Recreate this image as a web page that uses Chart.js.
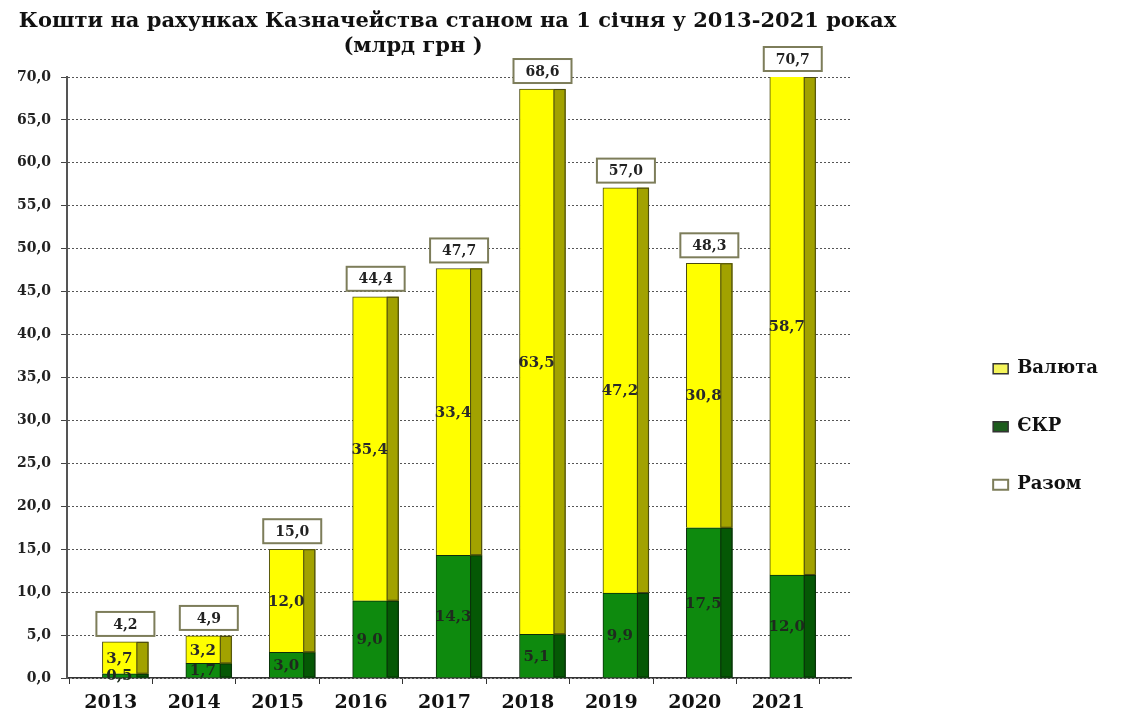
<!DOCTYPE html>
<html>
<head>
<meta charset="utf-8">
<title>Кошти на рахунках Казначейства</title>
<script src="https://cdn.jsdelivr.net/npm/chart.js@4.4.1/dist/chart.umd.min.js"></script>
<style>
  html, body { margin: 0; padding: 0; background: #fff; }
  #wrap { width: 1122px; height: 713px; position: relative; }
  .ttl {
    position: absolute; left: 0; margin: 0; white-space: nowrap; text-align: center;
    font: bold 21px "DejaVu Serif", "Liberation Serif", serif; color: #111; line-height: 25px;
  }
  #t1 { top: 7px; width: 915px; }
  #t2 { top: 32px; width: 826px; }
</style>
</head>
<body>
<div id="wrap">
  <div class="ttl" id="t1">Кошти на рахунках Казначейства станом на 1 січня у 2013-2021 роках</div>
  <div class="ttl" id="t2">(млрд грн )</div>
  <canvas id="chart"></canvas>
</div>
<script>
// кошти на рахунках Казначейства на 1 січня, млрд грн
const years = ['2013', '2014', '2015', '2016', '2017', '2018', '2019', '2020', '2021'];
const ekr = [0.5, 1.7, 3.0, 9.0, 14.3, 5.1, 9.9, 17.5, 12.0];
const valuta = [3.7, 3.2, 12.0, 35.4, 33.4, 63.5, 47.2, 30.8, 58.7];
const totals = [4.2, 4.9, 15.0, 44.4, 47.7, 68.6, 57.0, 48.3, 70.7];
const legendOrder = ['Валюта', 'ЄКР', 'Разом'];

Chart.defaults.font.family = '"DejaVu Serif", "Liberation Serif", serif';
Chart.defaults.color = '#111';

const fmt = v => v.toFixed(1).replace('.', ',');

// bars sit a bit right of the year label (3d depth in the original)
const SHIFT = 0.175;
const SIDE_W = 12;
const sideColor = ['#055805', '#a2a200'];
const edgeColor = ['#0b2e0b', '#4a4a10'];

// boundaries + label positions for the x axis
const xTickValues = [];
years.forEach((y, i) => {
  xTickValues.push(i - SHIFT - 0.5);
  xTickValues.push(i - SHIFT);
});
xTickValues.push(years.length - SHIFT - 0.5);

const legendStyle = {
  'Валюта': { fillStyle: '#f4f45a', strokeStyle: '#333', lineWidth: 1.5 },
  'ЄКР': { fillStyle: '#1d5c1d', strokeStyle: '#333', lineWidth: 1.5 },
  'Разом': { fillStyle: '#ffffff', strokeStyle: '#7d7d5a', lineWidth: 2 }
};

const barDecor = {
  id: 'barDecor',
  afterDatasetsDraw(chart) {
    const { ctx, chartArea } = chart;
    ctx.save();
    // side face of each bar
    [0, 1].forEach(di => {
      chart.getDatasetMeta(di).data.forEach(bar => {
        const p = bar.getProps(['x', 'y', 'base', 'width'], true);
        const top = Math.max(p.y, chartArea.top);
        const right = p.x + p.width / 2;
        ctx.fillStyle = sideColor[di];
        ctx.fillRect(right - SIDE_W, top, SIDE_W, p.base - top);
        ctx.strokeStyle = edgeColor[di];
        ctx.lineWidth = 1;
        ctx.strokeRect(right - SIDE_W + 0.5, top + 0.5, SIDE_W - 1, p.base - top - 1);
      });
    });
    // values inside segments
    ctx.font = 'bold 15px "DejaVu Serif"';
    ctx.textAlign = 'center';
    ctx.textBaseline = 'middle';
    [0, 1].forEach(di => {
      const vals = chart.data.datasets[di].data;
      chart.getDatasetMeta(di).data.forEach((bar, i) => {
        const p = bar.getProps(['x', 'y', 'base'], true);
        const top = Math.max(p.y, chartArea.top);
        ctx.fillStyle = di === 0 ? '#1e2a1e' : '#2a2a2a';
        ctx.fillText(fmt(vals[i].y), p.x - SIDE_W / 2, (top + p.base) / 2 + 1);
      });
    });
    // totals in boxes
    ctx.font = 'bold 14px "DejaVu Serif"';
    const tot = chart.data.datasets[2].data;
    chart.getDatasetMeta(2).data.forEach((pt, i) => {
      const p = pt.getProps(['x', 'y'], true);
      const bottom = Math.max(p.y, chartArea.top) - 6;
      const w = 58, h = 24;
      ctx.fillStyle = '#fff';
      ctx.fillRect(p.x - w / 2, bottom - h, w, h);
      ctx.strokeStyle = '#7d7d5a';
      ctx.lineWidth = 2;
      ctx.strokeRect(p.x - w / 2, bottom - h, w, h);
      ctx.fillStyle = '#222';
      ctx.fillText(fmt(tot[i].y), p.x, bottom - h / 2 + 1);
    });
    ctx.restore();
  }
};

new Chart(document.getElementById('chart'), {
  data: {
    datasets: [
      {
        type: 'bar',
        label: 'ЄКР',
        data: ekr.map((v, i) => ({ x: i, y: v })),
        backgroundColor: '#0e8a0e',
        borderColor: '#0b2e0b',
        borderWidth: 1
      },
      {
        type: 'bar',
        label: 'Валюта',
        data: valuta.map((v, i) => ({ x: i, y: v })),
        backgroundColor: '#ffff00',
        borderColor: '#4a4a10',
        borderWidth: 1
      },
      {
        type: 'line',
        label: 'Разом',
        stack: 'total',
        data: totals.map((v, i) => ({ x: i, y: v })),
        showLine: false,
        pointRadius: 0,
        backgroundColor: '#fff',
        borderColor: '#7d7d5a'
      }
    ]
  },
  options: {
    responsive: true,
    maintainAspectRatio: false,
    animation: false,
    events: [],
    layout: { padding: { top: 77, right: 14 } },
    datasets: {
      bar: { barThickness: 46 }
    },
    scales: {
      x: {
        type: 'linear',
        stacked: true,
        offset: false,
        min: -0.7,
        max: 8.7,
        afterBuildTicks: s => { s.ticks = xTickValues.map(v => ({ value: v })); },
        afterFit: s => { s.height = 35; },
        ticks: {
          autoSkip: false,
          maxRotation: 0,
          minRotation: 0,
          padding: 8,
          color: '#111',
          font: { size: 19, weight: 'bold' },
          callback: (v, i) => (i % 2 ? years[(i - 1) / 2] : '')
        },
        grid: {
          offset: false,
          drawOnChartArea: false,
          tickLength: 6,
          tickColor: c => (c.index % 2 ? 'rgba(0,0,0,0)' : '#333')
        },
        border: { color: '#333', width: 1.5 }
      },
      y: {
        stacked: true,
        min: 0,
        max: 70,
        afterFit: s => { s.width = 67; },
        ticks: {
          stepSize: 5,
          padding: 10,
          color: '#222',
          font: { size: 14, weight: 'bold' },
          callback: v => fmt(v)
        },
        grid: { color: '#555', lineWidth: 1, tickLength: 6, tickColor: '#444' },
        border: { color: '#555', width: 2, dash: [2, 2] }
      },
      pad: {
        type: 'linear',
        position: 'right',
        display: true,
        afterFit: s => { s.width = 102; },
        ticks: { display: false },
        grid: { display: false },
        border: { display: false }
      }
    },
    plugins: {
      title: { display: false },
      legend: {
        position: 'right',
        title: { display: true, text: '', font: { size: 12 }, padding: { top: 49, bottom: 0 } },
        labels: {
          boxWidth: 15,
          boxHeight: 10,
          padding: 40,
          color: '#111',
          font: { size: 18, weight: 'bold' },
          sort: (a, b) => legendOrder.indexOf(a.text) - legendOrder.indexOf(b.text),
          generateLabels: chart => Chart.defaults.plugins.legend.labels.generateLabels(chart)
            .map(l => Object.assign(l, legendStyle[l.text]))
        }
      },
      tooltip: { enabled: false }
    }
  },
  plugins: [barDecor]
});
</script>
</body>
</html>
